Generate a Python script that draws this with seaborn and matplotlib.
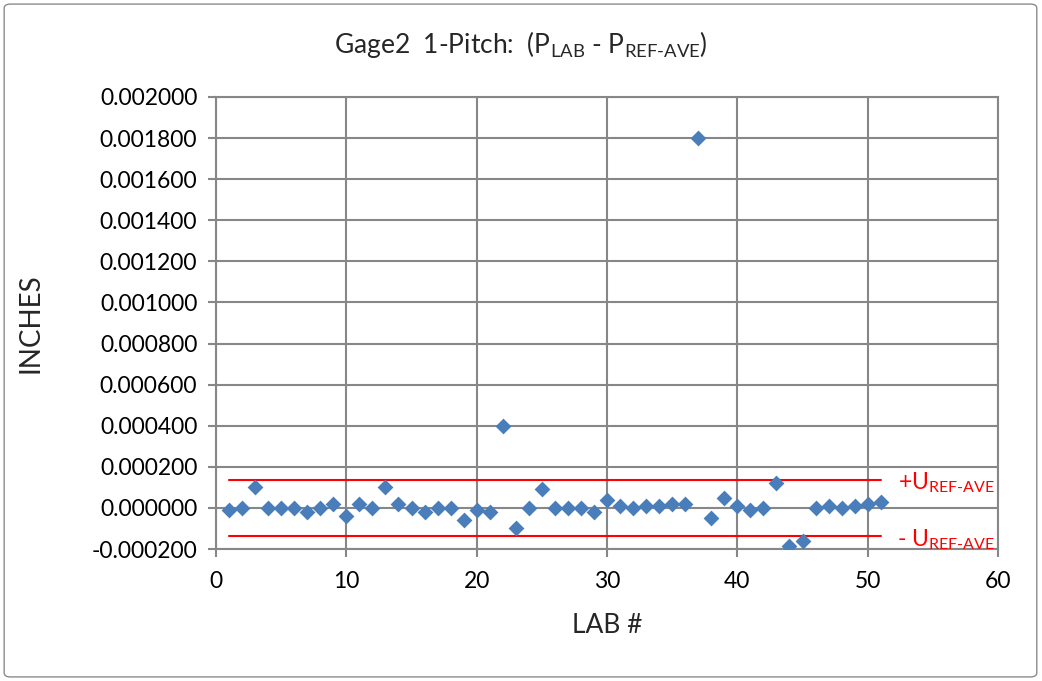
import matplotlib
matplotlib.use("Agg")
import matplotlib.pyplot as plt
import seaborn as sns
import pandas as pd
from matplotlib.patches import FancyBboxPatch

# --- DATA ---
labs = list(range(1, 52))
deviation = [
    -0.00001, 0.0, 0.0001, 0.0, 0.0, 0.0, -0.00002, 0.0, 0.00002, -0.00004,
    0.00002, 0.0, 0.0001, 0.00002, 0.0, -0.00002, 0.0, 0.0, -0.00006, -0.00001,
    -0.00002, 0.0004, -0.0001, 0.0, 0.00009, 0.0, 0.0, 0.0, -0.00002, 0.00004,
    0.00001, 0.0, 0.00001, 0.00001, 0.00002, 0.00002, 0.0018, -0.00005, 0.00005, 0.00001,
    -0.00001, 0.0, 0.00012, -0.000185, -0.00016, 0.0, 0.00001, 0.0, 0.00001, 0.00002,
    0.00003,
]
u_ref_ave = 0.000136
u_span = [1, 51]

df = pd.DataFrame({"lab": labs, "dev": deviation})

# --- STYLE ---
sns.set_theme(style="white")
plt.rcParams["font.family"] = ["Lato", "DejaVu Sans"]
plt.rcParams["mathtext.fontset"] = "custom"
plt.rcParams["mathtext.rm"] = "Lato"
plt.rcParams["mathtext.it"] = "Lato"

fig = plt.figure(figsize=(10.42, 6.81), dpi=100)
ax = fig.add_axes([0.2073, 0.1938, 0.7505, 0.6638])

# chart border
fig.patches.append(FancyBboxPatch((0.004, 0.006), 0.991, 0.988, boxstyle="round,pad=0,rounding_size=0.006",
                                  transform=fig.transFigure, fill=False, edgecolor="#8c8c8c", linewidth=1.0))

sns.scatterplot(data=df, x="lab", y="dev", marker="D", color="#4a7ebb", s=65, linewidth=0, ax=ax, zorder=3)

# uncertainty limits
ax.plot(u_span, [u_ref_ave, u_ref_ave], color="#ff0000", linewidth=1.5, zorder=2)
ax.plot(u_span, [-u_ref_ave, -u_ref_ave], color="#ff0000", linewidth=1.5, zorder=2)
ax.text(56, 0.000122, r"+U$_\mathregular{REF\text{-}AVE}$", color="#ff0000", fontsize=16.5, ha="center", va="center")
ax.text(56, -0.000156, r"- U$_\mathregular{REF\text{-}AVE}$", color="#ff0000", fontsize=16.5, ha="center", va="center")

ax.set_xlim(0, 60)
ax.set_ylim(-0.0002, 0.002)
ax.set_xticks(range(0, 61, 10))
ax.set_yticks([i * 0.0002 for i in range(-1, 11)])
ax.set_yticklabels([f"{v * 0.0002:.6f}" for v in range(-1, 11)])

ax.grid(True, color="#878787", linewidth=1.5)
ax.set_axisbelow(True)
for sp in ax.spines.values():
    sp.set_color("#878787")
    sp.set_linewidth(1.5)
ax.tick_params(axis="both", which="both", direction="out", length=5.5, width=1.5, color="#878787",
               labelsize=16.5, labelcolor="black", left=True, bottom=True)
ax.tick_params(axis="y", pad=8)
ax.tick_params(axis="x", pad=10)

ax.set_xlabel("LAB #", fontsize=19)
ax.xaxis.label.set_va("center")
ax.xaxis.set_label_coords(0.5, -0.170)
ax.set_ylabel("INCHES", fontsize=20)
ax.yaxis.label.set_va("center")
ax.yaxis.set_label_coords(-0.2366, 0.5)

fig.text(0.5, 1 - 45 / 681, r"Gage2  1-Pitch:  (P$_\mathregular{LAB}$ - P$_\mathregular{REF\text{-}AVE}$)",
         fontsize=19, ha="center", va="center")

fig.savefig("out.png", dpi=100)
